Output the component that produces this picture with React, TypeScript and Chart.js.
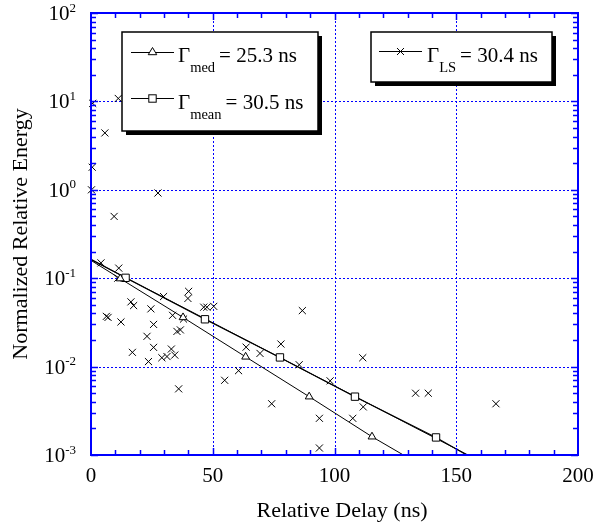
import React, { useEffect, useRef } from 'react';
import { Chart, registerables } from 'chart.js';

Chart.register(...registerables);

// ---- data ----
const scatterX = [0.7, 11.2, 5.7, 0.5, 0.2, 27.5, 9.5, 4.1, 11.4, 11.0, 16.4, 17.5, 6.3, 7.0, 12.3, 24.6, 29.8, 25.7, 23.0, 17.0, 25.7, 23.6, 29.1, 31.2, 33.0, 34.4, 33.5, 38.0, 35.3, 36.7, 40.1, 39.8, 46.3, 47.6, 50.4, 36.0, 54.9, 60.6, 86.8, 78.0, 63.7, 69.4, 85.5, 111.6, 98.2, 111.8, 133.3, 138.5, 74.2, 93.8, 107.5, 93.8, 166.3];
const scatterY = [9.5, 10.8, 4.4, 1.8, 1.0, 0.92, 0.5, 0.149, 0.13, 0.1, 0.054, 0.049, 0.037, 0.036, 0.032, 0.045, 0.062, 0.03, 0.022, 0.0145, 0.0165, 0.0114, 0.0126, 0.013, 0.0158, 0.0135, 0.038, 0.0345, 0.025, 0.026, 0.071, 0.059, 0.047, 0.047, 0.048, 0.0056, 0.007, 0.009, 0.043, 0.018, 0.0166, 0.0141, 0.0105, 0.0126, 0.0069, 0.0035, 0.005, 0.005, 0.0038, 0.0026, 0.0026, 0.0012, 0.0038];

const medX = [0, 12, 37.8, 63.5, 89.6, 115.4, 128.3];
const medY = [0.159, 0.099, 0.036, 0.0129, 0.00457, 0.00161, 0.001];
const meanX = [0, 14.2, 46.8, 77.6, 108.4, 141.7, 154.3];
const meanY = [0.164, 0.101, 0.0343, 0.0127, 0.00457, 0.00158, 0.001];
const lsX = [0, 154.8];
const lsY = [0.162, 0.001];

const xTickValues = [0, 50, 100, 150, 200];
const yExponents = [-3, -2, -1, 0, 1, 2];

const medLabel = { sub: 'med', rest: '= 25.3 ns' };
const meanLabel = { sub: 'mean', rest: '= 30.5 ns' };
const lsLabel = { sub: 'LS', rest: '= 30.4 ns' };
const xTitle = 'Relative Delay (ns)';
const yTitle = 'Normalized Relative Energy';

const FONT = "'Liberation Serif', 'Times New Roman', serif";
const BLUE = '#0000ff';

function drawTriangle(ctx: CanvasRenderingContext2D, x: number, y: number, r: number) {
  ctx.beginPath();
  ctx.moveTo(x, y - r);
  ctx.lineTo(x + r * 0.95, y + r * 0.6);
  ctx.lineTo(x - r * 0.95, y + r * 0.6);
  ctx.closePath();
  ctx.fillStyle = '#fff';
  ctx.fill();
  ctx.stroke();
}
function drawSquare(ctx: CanvasRenderingContext2D, x: number, y: number, h: number) {
  ctx.fillStyle = '#fff';
  ctx.fillRect(x - h, y - h, 2 * h, 2 * h);
  ctx.strokeRect(x - h, y - h, 2 * h, 2 * h);
}
function drawX(ctx: CanvasRenderingContext2D, x: number, y: number, h: number) {
  ctx.beginPath();
  ctx.moveTo(x - h, y - h);
  ctx.lineTo(x + h, y + h);
  ctx.moveTo(x + h, y - h);
  ctx.lineTo(x - h, y + h);
  ctx.stroke();
}
function drawGamma(ctx: CanvasRenderingContext2D, x: number, base: number, lab: { sub: string; rest: string }) {
  ctx.fillStyle = '#000';
  ctx.textAlign = 'left';
  ctx.textBaseline = 'alphabetic';
  ctx.font = `21px ${FONT}`;
  ctx.fillText('Γ', x, base);
  const w1 = ctx.measureText('Γ').width;
  ctx.font = `14.5px ${FONT}`;
  ctx.fillText(lab.sub, x + w1, base + 10);
  const w2 = ctx.measureText(lab.sub).width;
  ctx.font = `21px ${FONT}`;
  ctx.fillText(lab.rest, x + w1 + w2 + 4, base);
}
function drawBox(ctx: CanvasRenderingContext2D, x: number, y: number, w: number, h: number) {
  ctx.fillStyle = '#000';
  ctx.fillRect(x + 4, y + 4, w, h);
  ctx.fillStyle = '#fff';
  ctx.fillRect(x, y, w, h);
  ctx.strokeStyle = '#000';
  ctx.lineWidth = 1.5;
  ctx.strokeRect(x, y, w, h);
}

const decor = {
  id: 'decor',
  beforeDraw(chart: any) {
    const ctx = chart.ctx;
    ctx.save();
    ctx.fillStyle = '#fff';
    ctx.fillRect(0, 0, chart.width, chart.height);
    ctx.restore();
  },
  beforeDatasetsDraw(chart: any) {
    const { ctx, chartArea, scales } = chart;
    const { left, right, top, bottom } = chartArea;
    ctx.save();
    ctx.strokeStyle = BLUE;
    ctx.lineWidth = 1;
    ctx.setLineDash([2, 2]);
    for (const v of xTickValues) {
      if (v <= 0 || v >= 200) continue;
      const px = Math.round(scales.x.getPixelForValue(v)) + 0.5;
      ctx.beginPath(); ctx.moveTo(px, top); ctx.lineTo(px, bottom); ctx.stroke();
    }
    for (const e of yExponents) {
      if (e <= -3 || e >= 2) continue;
      const py = Math.round(scales.y.getPixelForValue(Math.pow(10, e))) + 0.5;
      ctx.beginPath(); ctx.moveTo(left, py); ctx.lineTo(right, py); ctx.stroke();
    }
    ctx.restore();
  },
  afterDatasetsDraw(chart: any) {
    const { ctx, chartArea, scales } = chart;
    const { left, right, top, bottom } = chartArea;
    ctx.save();
    ctx.strokeStyle = BLUE;
    ctx.lineWidth = 1.5;
    for (let v = 10; v < 200; v += 10) {
      const px = Math.round(scales.x.getPixelForValue(v)) + 0.5;
      const len = v % 50 === 0 ? 7 : 5;
      ctx.beginPath();
      ctx.moveTo(px, bottom); ctx.lineTo(px, bottom - len);
      ctx.moveTo(px, top); ctx.lineTo(px, top + len);
      ctx.stroke();
    }
    for (let e = -3; e <= 2; e++) {
      for (let m = 1; m <= 9; m++) {
        if (e === 2 && m > 1) continue;
        const py = Math.round(scales.y.getPixelForValue(m * Math.pow(10, e))) + 0.5;
        const len = m === 1 ? 7 : 5;
        ctx.beginPath();
        ctx.moveTo(left, py); ctx.lineTo(left + len, py);
        ctx.moveTo(right, py); ctx.lineTo(right - len, py);
        ctx.stroke();
      }
    }
    ctx.lineWidth = 2;
    ctx.strokeRect(left, top, right - left, bottom - top);
    ctx.restore();
  },
  afterDraw(chart: any) {
    const { ctx, chartArea, scales } = chart;
    const { left, top, bottom } = chartArea;
    ctx.save();
    ctx.fillStyle = '#000';
    for (const e of yExponents) {
      const py = scales.y.getPixelForValue(Math.pow(10, e));
      ctx.font = `21px ${FONT}`;
      const w1 = ctx.measureText('10').width;
      ctx.font = `13px ${FONT}`;
      const sup = String(e);
      const w2 = ctx.measureText(sup).width;
      const x0 = left - 15 - w2 - w1;
      ctx.textAlign = 'left';
      ctx.textBaseline = 'alphabetic';
      ctx.font = `21px ${FONT}`;
      ctx.fillText('10', x0, py + 7);
      ctx.font = `13px ${FONT}`;
      ctx.fillText(sup, x0 + w1, py - 1.5);
    }
    ctx.font = `22px ${FONT}`;
    ctx.textAlign = 'center';
    ctx.textBaseline = 'alphabetic';
    ctx.fillText(xTitle, 342, 517);
    ctx.save();
    ctx.translate(27, (top + bottom) / 2);
    ctx.rotate(-Math.PI / 2);
    ctx.font = `22px ${FONT}`;
    ctx.fillText(yTitle, 0, 0);
    ctx.restore();

    drawBox(ctx, 122, 32, 196, 99);
    drawBox(ctx, 371, 32, 181, 50);
    ctx.strokeStyle = '#000';
    ctx.lineWidth = 1;
    ctx.beginPath(); ctx.moveTo(131, 52.5); ctx.lineTo(174, 52.5); ctx.stroke();
    drawTriangle(ctx, 152.5, 52, 4.5);
    drawGamma(ctx, 178, 62, medLabel);
    ctx.beginPath(); ctx.moveTo(131, 98.5); ctx.lineTo(174, 98.5); ctx.stroke();
    drawSquare(ctx, 152.5, 98.5, 3.7);
    drawGamma(ctx, 178, 108.5, meanLabel);
    ctx.beginPath(); ctx.moveTo(379, 51.5); ctx.lineTo(422, 51.5); ctx.stroke();
    drawX(ctx, 400.5, 51.5, 3.5);
    drawGamma(ctx, 427, 62, lsLabel);
    ctx.restore();
  },
};

export default function App() {
  const ref = useRef<HTMLCanvasElement | null>(null);
  useEffect(() => {
    if (!ref.current) return;
    const scatterData = scatterX.map((x, i) => ({ x, y: scatterY[i] }));
    const medData = medX.map((x, i) => ({ x, y: medY[i] }));
    const meanData = meanX.map((x, i) => ({ x, y: meanY[i] }));
    const lsData = lsX.map((x, i) => ({ x, y: lsY[i] }));
    const markerRadius = (n: number, r: number) => Array.from({ length: n }, (_, i) => (i === 0 || i === n - 1 ? 0 : r));
    const chart = new Chart(ref.current, {
      type: 'scatter',
      data: {
        datasets: [
          {
            label: 'med',
            data: medData,
            showLine: true,
            borderColor: '#000',
            borderWidth: 1,
            pointStyle: 'triangle',
            pointRadius: markerRadius(medData.length, 4.5),
            pointBackgroundColor: '#fff',
            pointBorderColor: '#000',
            pointBorderWidth: 1,
            clip: false,
          },
          {
            label: 'mean',
            data: meanData,
            showLine: true,
            borderColor: '#000',
            borderWidth: 1.2,
            pointStyle: 'rect',
            pointRadius: markerRadius(meanData.length, 5.2),
            pointBackgroundColor: '#fff',
            pointBorderColor: '#000',
            pointBorderWidth: 1,
            clip: false,
          },
          {
            label: 'LS',
            data: lsData,
            showLine: true,
            borderColor: '#000',
            borderWidth: 1,
            pointRadius: 0,
            clip: false,
          },
          {
            label: 'points',
            data: scatterData,
            showLine: false,
            pointStyle: 'crossRot',
            pointRadius: 5,
            borderColor: '#000',
            pointBorderColor: '#000',
            pointBorderWidth: 1,
            clip: false,
          },
        ],
      },
      options: {
        animation: false,
        responsive: false,
        maintainAspectRatio: false,
        devicePixelRatio: 1,
        layout: { padding: { top: 13, right: 33, left: 0, bottom: 0 } },
        plugins: { legend: { display: false }, tooltip: { enabled: false } },
        scales: {
          x: {
            type: 'linear',
            min: 0,
            max: 200,
            afterBuildTicks: (s: any) => { s.ticks = xTickValues.map((v) => ({ value: v })); },
            ticks: { color: '#000', font: { family: FONT, size: 21 }, padding: 9, maxRotation: 0, autoSkip: false },
            grid: { display: false, drawTicks: false },
            border: { display: false },
            afterFit: (s: any) => { s.height = 74; },
          },
          y: {
            type: 'logarithmic',
            min: 1e-3,
            max: 1e2,
            ticks: { display: false },
            grid: { display: false, drawTicks: false },
            border: { display: false },
            afterFit: (s: any) => { s.width = 91; },
          },
        },
      },
      plugins: [decor],
    } as any);
    return () => chart.destroy();
  }, []);
  return (
    <div style={{ position: 'fixed', left: 0, top: 0, width: 611, height: 529, background: '#fff' }}>
      <canvas ref={ref} width={611} height={529} style={{ width: 611, height: 529, display: 'block' }} />
    </div>
  );
}
